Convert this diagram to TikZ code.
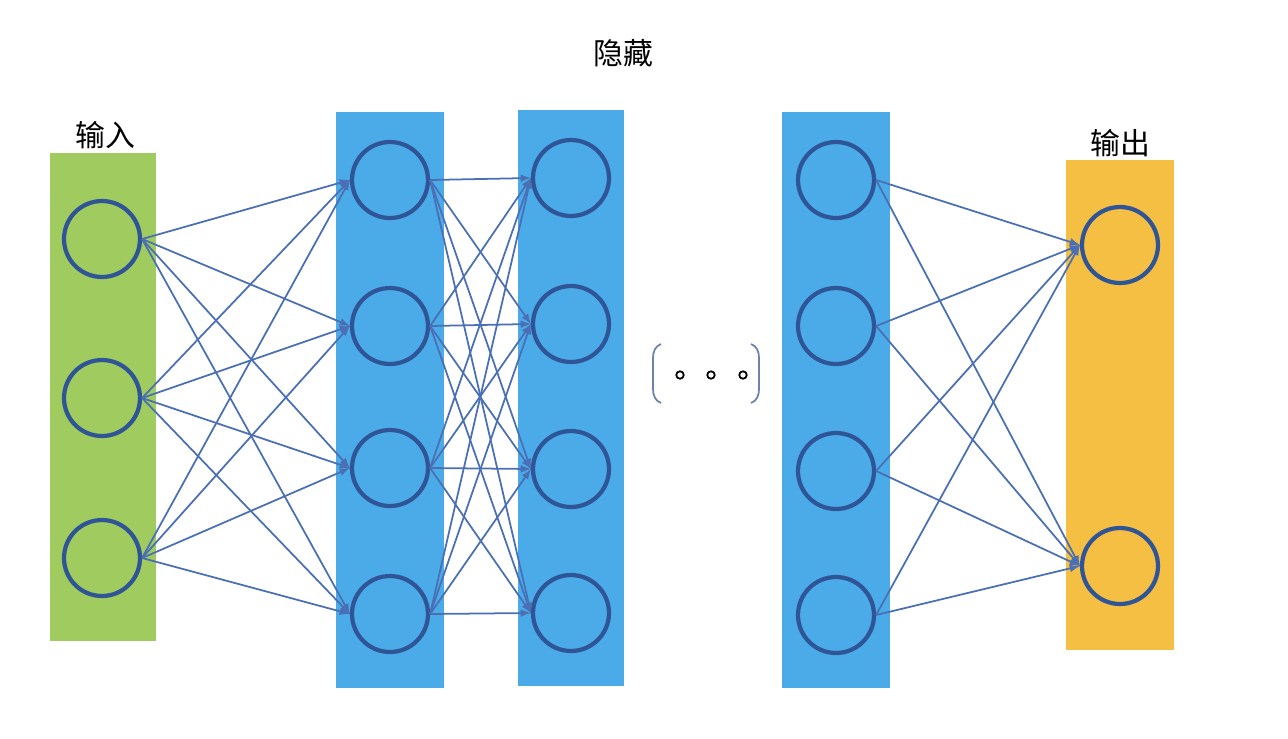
\documentclass[tikz,border=0pt]{standalone}
\usepackage{fontspec}
\newfontfamily\cjk{Noto Sans CJK SC}
\usepackage{tikz}
\usetikzlibrary{arrows,calc,positioning}
\definecolor{ingreen}{HTML}{A0CB5F}
\definecolor{hidblue}{HTML}{4AABE8}
\definecolor{outorange}{HTML}{F4BF43}
\definecolor{ring}{HTML}{2F5597}
\definecolor{edge}{HTML}{4A6FB5}
\definecolor{brk}{HTML}{6F82AA}
\tikzset{
  neuron/.style={circle,draw=ring,line width=2.4pt,minimum size=1.52cm,inner sep=0pt},
  conn/.style={edge,line width=1pt,-latex},
  title/.style={font=\cjk\fontsize{17}{20}\selectfont}
}

\begin{document}
\begin{tikzpicture}[x=0.02cm,y=-0.02cm]
\useasboundingbox (0,0) rectangle (1288,738);
\fill[ingreen] (50,153) rectangle (156,641);
\fill[hidblue] (336,112) rectangle (444,688);
\fill[hidblue] (518,110) rectangle (624,686);
\fill[hidblue] (782,112) rectangle (890,688);
\fill[outorange] (1066,160) rectangle (1174,650);
\node[title] (In) at (105,135) {输入};
\node[title] (Hid) at (623,53) {隐藏};
\node[title] (Out) at (1120,143) {输出};
% input layer
\node[neuron] (X1) at (102,239) {};
\node[neuron] (X2) at (102,398) {};
\node[neuron] (X3) at (102,558) {};
% hidden layers
\node[neuron] (A1) at (390,180) {};
\node[neuron] (A2) at (390,326) {};
\node[neuron] (A3) at (390,468) {};
\node[neuron] (A4) at (390,614) {};
\node[neuron] (B1) at (571,178) {};
\node[neuron] (B2) at (571,324) {};
\node[neuron] (B3) at (571,469) {};
\node[neuron] (B4) at (571,613) {};
\node[neuron] (C1) at (836,180) {};
\node[neuron] (C2) at (836,326) {};
\node[neuron] (C3) at (836,471) {};
\node[neuron] (C4) at (836,615) {};
% output layer
\node[neuron] (Y1) at (1120,245) {};
\node[neuron] (Y2) at (1120,566) {};
\foreach \i in {1,2,3}
  \foreach \j in {1,2,3,4}
    \draw[conn] (X\i.east) -- (A\j.west);
\foreach \i in {1,2,3,4}
  \foreach \j in {1,2,3,4}
    \draw[conn] (A\i.east) -- (B\j.west);
\foreach \i in {1,2,3,4}
  \foreach \j in {1,2}
    \draw[conn] (C\i.east) -- (Y\j.west);
% ellipsis between hidden layers
\draw[brk,line width=1pt] (661,344) to[out=200,in=90] (653,358) -- (653,389) to[out=-90,in=160] (661,403);
\draw[brk,line width=1pt] (751,344) to[out=-20,in=90] (759,358) -- (759,389) to[out=-90,in=20] (751,403);
\foreach \x/\n in {680/D1,711/D2,743/D3}
  \node[circle,draw=black,line width=1pt,minimum size=0.15cm,inner sep=0pt] (\n) at (\x,375) {};
\end{tikzpicture}
\end{document}
